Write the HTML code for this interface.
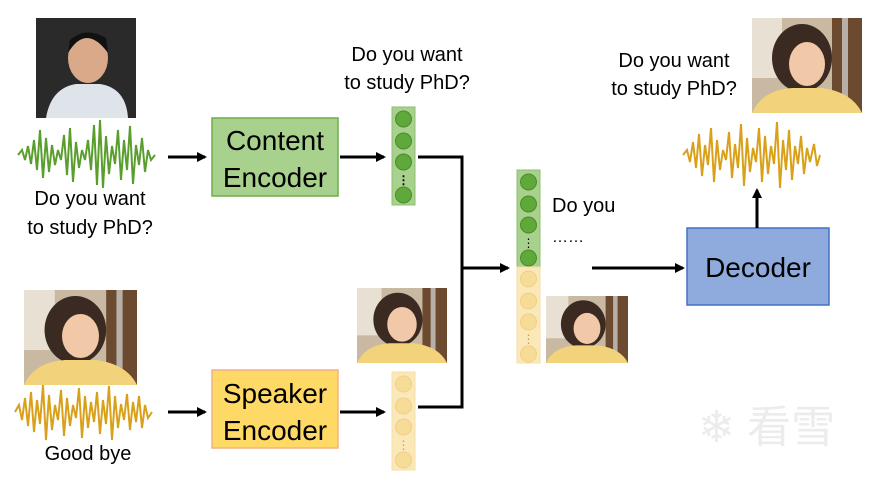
<!DOCTYPE html>
<html><head><meta charset="utf-8"><style>
body{margin:0;background:#fff;}
svg{display:block}
text{font-family:"Liberation Sans","Noto Sans CJK SC",sans-serif;fill:#000}
</style></head><body>
<svg width="870" height="478" viewBox="0 0 870 478" xmlns="http://www.w3.org/2000/svg">
<defs>
<marker id="ah" markerWidth="10" markerHeight="10" refX="8" refY="5" orient="auto" markerUnits="userSpaceOnUse">
<path d="M0,0 L10,5 L0,10 z" fill="#000"/></marker>
<symbol id="woman" viewBox="0 0 110 95" preserveAspectRatio="none">
<rect width="110" height="95" fill="#c9b8a2"/>
<rect x="0" y="0" width="30" height="60" fill="#e8e0d2"/>
<rect x="80" y="0" width="30" height="95" fill="#6b4a30"/>
<rect x="90" y="0" width="6" height="95" fill="#b8b0a8"/>
<ellipse cx="50" cy="40" rx="30" ry="34" fill="#3a2a22"/>
<ellipse cx="55" cy="46" rx="18" ry="22" fill="#f2c9a8"/>
<path d="M30,35 Q50,10 74,35 L72,25 Q50,5 32,25z" fill="#3a2a22"/>
<path d="M0,95 Q10,72 40,70 L70,70 Q100,74 110,95z" fill="#f2d27a"/>
</symbol>
<symbol id="man" viewBox="0 0 100 100" preserveAspectRatio="none">
<rect width="100" height="100" fill="#2a2a2a"/>
<ellipse cx="52" cy="40" rx="20" ry="25" fill="#d9a98a"/>
<path d="M32,35 Q50,5 72,35 L70,20 Q50,8 34,22z" fill="#111"/>
<path d="M10,100 Q15,70 40,66 L64,66 Q90,70 92,100z" fill="#dfe4ea"/>
</symbol>
</defs>

<use href="#man" x="36" y="18" width="100" height="100"/>
<use href="#woman" x="24" y="290" width="113" height="95"/>
<use href="#woman" x="357" y="288" width="90" height="75"/>
<use href="#woman" x="546" y="296" width="82" height="67"/>
<use href="#woman" x="752" y="18" width="110" height="95"/>

<path d="M18,155 L22,150 L25,160 L28,146 L31,164 L34,140 L37,170 L40,130 L43,178 L46,138 L49,172 L52,145 L55,165 L58,150 L61,160 L64,135 L67,175 L70,128 L73,182 L76,142 L79,168 L82,150 L85,160 L88,140 L91,170 L94,125 L97,185 L100,120 L103,188 L106,136 L109,174 L112,146 L115,164 L118,130 L121,180 L124,140 L127,170 L130,126 L133,184 L136,145 L139,165 L142,138 L145,172 L148,150 L151,160 L155,155" stroke="#5a9e2e" stroke-width="2" fill="none"/>
<path d="M15,412 L19,405 L22,420 L25,398 L28,426 L31,392 L34,432 L37,400 L40,424 L43,385 L46,440 L49,395 L52,430 L55,405 L58,420 L61,390 L64,436 L67,398 L70,426 L73,405 L76,418 L79,388 L82,438 L85,396 L88,428 L91,402 L94,422 L97,392 L100,434 L103,400 L106,424 L109,386 L112,440 L115,396 L118,428 L121,404 L124,420 L127,394 L130,430 L133,402 L136,422 L139,396 L142,428 L145,405 L148,418 L152,412" stroke="#d9a11a" stroke-width="2" fill="none"/>
<path d="M683,155 L687,150 L690,162 L693,142 L696,168 L699,134 L702,176 L705,145 L708,165 L711,128 L714,182 L717,140 L720,170 L723,150 L726,160 L729,132 L732,178 L735,144 L738,168 L741,124 L744,186 L747,138 L750,172 L753,148 L756,162 L759,128 L762,182 L765,136 L768,174 L771,146 L774,164 L777,122 L780,188 L783,140 L786,170 L789,130 L792,180 L795,146 L798,164 L801,136 L804,174 L807,148 L810,162 L814,144 L817,166 L820,155" stroke="#d9a11a" stroke-width="2" fill="none"/>

<text x="90" y="205" font-size="20" text-anchor="middle">Do you want</text>
<text x="90" y="234" font-size="20" text-anchor="middle">to study PhD?</text>
<text x="407" y="61" font-size="20" text-anchor="middle">Do you want</text>
<text x="407" y="89" font-size="20" text-anchor="middle">to study PhD?</text>
<text x="674" y="67" font-size="20" text-anchor="middle">Do you want</text>
<text x="674" y="95" font-size="20" text-anchor="middle">to study PhD?</text>
<text x="88" y="460" font-size="20" text-anchor="middle">Good bye</text>
<text x="552" y="212" font-size="20">Do you</text>
<text x="552" y="242" font-size="16">……</text>

<rect x="212" y="118" width="126" height="78" fill="#a9d18e" stroke="#70ad47" stroke-width="1.5"/>
<text x="275" y="150" font-size="28" text-anchor="middle">Content</text>
<text x="275" y="187" font-size="28" text-anchor="middle">Encoder</text>
<rect x="212" y="370" width="126" height="78" fill="#ffd966" stroke="#f4b183" stroke-width="1.5"/>
<text x="275" y="403" font-size="28" text-anchor="middle">Speaker</text>
<text x="275" y="440" font-size="28" text-anchor="middle">Encoder</text>
<rect x="687" y="228" width="142" height="77" fill="#8faadc" stroke="#4472c4" stroke-width="1.5"/>
<text x="758" y="277" font-size="28" text-anchor="middle">Decoder</text>

<g>
<rect x="392" y="107" width="23" height="98" fill="#a9d18e" stroke="#8cc06e"/>
<circle cx="403.5" cy="119" r="8" fill="#5fa83a" stroke="#4e8a2e"/>
<circle cx="403.5" cy="141" r="8" fill="#5fa83a" stroke="#4e8a2e"/>
<circle cx="403.5" cy="162" r="8" fill="#5fa83a" stroke="#4e8a2e"/>
<text x="403.5" y="184" font-size="12" text-anchor="middle" font-weight="bold">⋮</text>
<circle cx="403.5" cy="195" r="8" fill="#5fa83a" stroke="#4e8a2e"/>
</g>
<g>
<rect x="392" y="372" width="23" height="98" fill="#fbe8b8" stroke="#f5dfa6"/>
<circle cx="403.5" cy="384" r="8" fill="#f6dc96" stroke="#eed08a"/>
<circle cx="403.5" cy="406" r="8" fill="#f6dc96" stroke="#eed08a"/>
<circle cx="403.5" cy="427" r="8" fill="#f6dc96" stroke="#eed08a"/>
<text x="403.5" y="449" font-size="12" text-anchor="middle" style="fill:#d9a11a">⋮</text>
<circle cx="403.5" cy="460" r="8" fill="#f6dc96" stroke="#eed08a"/>
</g>
<g>
<rect x="517" y="170" width="23" height="97" fill="#a9d18e" stroke="#8cc06e"/>
<circle cx="528.5" cy="182" r="8" fill="#5fa83a" stroke="#4e8a2e"/>
<circle cx="528.5" cy="204" r="8" fill="#5fa83a" stroke="#4e8a2e"/>
<circle cx="528.5" cy="225" r="8" fill="#5fa83a" stroke="#4e8a2e"/>
<text x="528.5" y="247" font-size="12" text-anchor="middle">⋮</text>
<circle cx="528.5" cy="258" r="8" fill="#5fa83a" stroke="#4e8a2e"/>
<rect x="517" y="267" width="23" height="96" fill="#fbe8b8" stroke="#f5dfa6"/>
<circle cx="528.5" cy="279" r="8" fill="#f6dc96" stroke="#eed08a"/>
<circle cx="528.5" cy="301" r="8" fill="#f6dc96" stroke="#eed08a"/>
<circle cx="528.5" cy="322" r="8" fill="#f6dc96" stroke="#eed08a"/>
<text x="528.5" y="343" font-size="12" text-anchor="middle" style="fill:#d9a11a">⋮</text>
<circle cx="528.5" cy="354" r="8" fill="#f6dc96" stroke="#eed08a"/>
</g>

<g stroke="#000" stroke-width="3" fill="none">
<line x1="168" y1="157" x2="205" y2="157" marker-end="url(#ah)"/>
<line x1="340" y1="157" x2="384" y2="157" marker-end="url(#ah)"/>
<line x1="168" y1="412" x2="205" y2="412" marker-end="url(#ah)"/>
<line x1="340" y1="412" x2="384" y2="412" marker-end="url(#ah)"/>
<polyline points="418,157 462,157 462,407 418,407"/>
<line x1="462" y1="268" x2="508" y2="268" marker-end="url(#ah)"/>
<line x1="592" y1="268" x2="683" y2="268" marker-end="url(#ah)"/>
<line x1="757" y1="228" x2="757" y2="190" marker-end="url(#ah)"/>
</g>

<text x="698" y="442" font-size="44" style="fill:#ececec">❄ 看雪</text>
</svg>
</body></html>
